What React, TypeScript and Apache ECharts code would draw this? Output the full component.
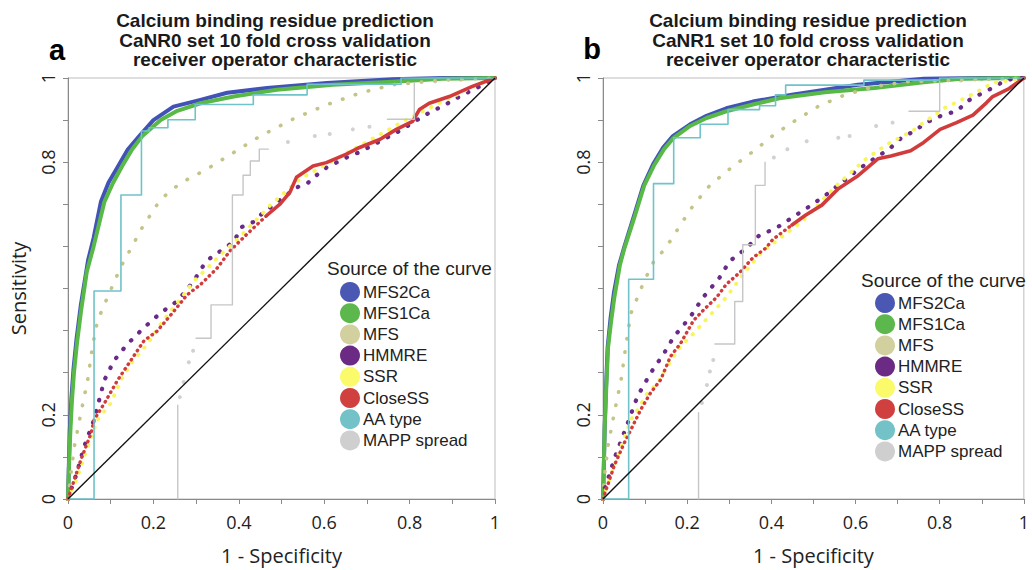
import React, { useEffect, useRef } from 'react';
import * as echarts from 'echarts';

type P = [number, number];

// ---------- Panel a : CaNR0 ----------
const A_MFS2Ca: P[] = [[0,0],[0.002,0.08],[0.004,0.16],[0.008,0.24],[0.013,0.31],[0.02,0.38],[0.03,0.46],[0.047,0.567],[0.06,0.62],[0.077,0.706],[0.095,0.752],[0.117,0.79],[0.14,0.83],[0.166,0.861],[0.2,0.9],[0.247,0.932],[0.31,0.948],[0.373,0.965],[0.466,0.976],[0.606,0.988],[0.76,0.997],[0.88,1],[1,1]];
const A_MFS1Ca: P[] = [[0,0],[0.002,0.07],[0.005,0.15],[0.009,0.23],[0.014,0.3],[0.021,0.37],[0.031,0.45],[0.044,0.54],[0.06,0.6],[0.085,0.705],[0.105,0.75],[0.127,0.791],[0.15,0.83],[0.174,0.862],[0.217,0.9],[0.256,0.922],[0.31,0.94],[0.388,0.956],[0.489,0.972],[0.62,0.984],[0.76,0.991],[0.877,0.998],[1,1]];
const A_MFS: P[] = [[0,0],[0.007,0.062],[0.015,0.125],[0.03,0.203],[0.046,0.282],[0.057,0.36],[0.069,0.423],[0.092,0.478],[0.124,0.552],[0.15,0.6],[0.174,0.645],[0.217,0.712],[0.263,0.75],[0.326,0.784],[0.388,0.823],[0.45,0.862],[0.528,0.903],[0.605,0.936],[0.683,0.964],[0.761,0.984],[0.877,0.995],[1,1]];
const A_HMMRE: P[] = [[0,0],[0.02,0.06],[0.038,0.125],[0.061,0.188],[0.085,0.282],[0.108,0.329],[0.139,0.368],[0.178,0.407],[0.217,0.442],[0.256,0.47],[0.294,0.517],[0.318,0.556],[0.333,0.572],[0.388,0.611],[0.407,0.646],[0.434,0.658],[0.45,0.674],[0.535,0.74],[0.559,0.748],[0.578,0.766],[0.605,0.787],[0.652,0.811],[0.683,0.824],[0.776,0.874],[0.838,0.913],[0.897,0.944],[0.924,0.96],[0.955,0.975],[1,1]];
const A_SSR: P[] = [[0,0],[0.02,0.045],[0.045,0.12],[0.069,0.188],[0.1,0.227],[0.124,0.282],[0.147,0.321],[0.186,0.368],[0.217,0.415],[0.24,0.446],[0.271,0.485],[0.294,0.517],[0.326,0.548],[0.357,0.58],[0.4,0.62],[0.473,0.697],[0.543,0.76],[0.605,0.795],[0.71,0.854],[0.792,0.901],[0.893,0.952],[0.959,0.984],[1,1]];
const A_CloseSS_dots: P[] = [[0,0],[0.03,0.093],[0.054,0.156],[0.061,0.188],[0.085,0.227],[0.116,0.282],[0.147,0.329],[0.178,0.376],[0.209,0.399],[0.248,0.446],[0.279,0.485],[0.31,0.509],[0.349,0.548],[0.38,0.59],[0.42,0.63],[0.466,0.674]];
const A_CloseSS_line: P[] = [[0.466,0.674],[0.497,0.701],[0.52,0.729],[0.535,0.764],[0.574,0.791],[0.605,0.799],[0.652,0.819],[0.683,0.835],[0.73,0.854],[0.769,0.878],[0.807,0.897],[0.823,0.925],[0.846,0.94],[0.893,0.956],[0.947,0.98],[1,1]];
const A_AAtype: P[] = [[0,0],[0.061,0],[0.061,0.494],[0.124,0.494],[0.124,0.722],[0.172,0.722],[0.172,0.874],[0.19,0.874],[0.19,0.882],[0.234,0.882],[0.234,0.901],[0.298,0.901],[0.298,0.937],[0.434,0.937],[0.434,0.96],[0.56,0.96],[0.56,0.985],[0.78,0.985],[0.78,1],[1,1]];
const A_MAPP_seg1: P[] = [[0.257,0],[0.257,0.223]];
const A_MAPP_seg2: P[] = [[0.3,0.382],[0.335,0.382],[0.335,0.461],[0.385,0.461],[0.385,0.722],[0.41,0.722],[0.41,0.769],[0.427,0.769],[0.427,0.803],[0.448,0.803],[0.448,0.831],[0.469,0.831]];
const A_MAPP_seg3: P[] = [[0.748,0.902],[0.811,0.902],[0.811,0.988]];
const A_MAPP_dots: P[] = [[0.262,0.242],[0.271,0.278],[0.283,0.325],[0.293,0.352],[0.515,0.848],[0.578,0.862],[0.613,0.867],[0.667,0.878],[0.706,0.884],[0.86,0.992],[0.92,0.996]];

// ---------- Panel b : CaNR1 ----------
const B_MFS2Ca: P[] = [[0,0],[0.002,0.08],[0.004,0.17],[0.007,0.26],[0.011,0.36],[0.018,0.43],[0.026,0.49],[0.038,0.555],[0.051,0.6],[0.072,0.667],[0.096,0.745],[0.119,0.795],[0.143,0.835],[0.166,0.862],[0.207,0.89],[0.246,0.91],[0.293,0.928],[0.356,0.944],[0.449,0.96],[0.606,0.984],[0.762,0.998],[0.9,1],[1,1]];
const B_MFS1Ca: P[] = [[0,0],[0.002,0.08],[0.004,0.17],[0.008,0.27],[0.012,0.36],[0.019,0.42],[0.027,0.479],[0.04,0.555],[0.051,0.596],[0.074,0.667],[0.098,0.745],[0.121,0.792],[0.145,0.831],[0.168,0.858],[0.207,0.886],[0.246,0.905],[0.293,0.921],[0.356,0.937],[0.419,0.952],[0.527,0.966],[0.645,0.976],[0.762,0.99],[0.85,0.998],[1,1]];
const B_MFS: P[] = [[0,0],[0.003,0.05],[0.012,0.127],[0.027,0.205],[0.043,0.283],[0.055,0.369],[0.066,0.44],[0.098,0.518],[0.121,0.565],[0.149,0.596],[0.184,0.651],[0.215,0.698],[0.254,0.745],[0.301,0.784],[0.364,0.831],[0.402,0.862],[0.449,0.894],[0.512,0.933],[0.575,0.96],[0.645,0.98],[0.723,0.991],[1,1]];
const B_HMMRE: P[] = [[0,0],[0.003,0.02],[0.027,0.096],[0.059,0.181],[0.082,0.244],[0.113,0.299],[0.145,0.346],[0.168,0.385],[0.207,0.432],[0.238,0.479],[0.277,0.526],[0.301,0.565],[0.341,0.596],[0.372,0.627],[0.411,0.643],[0.458,0.674],[0.489,0.694],[0.528,0.721],[0.598,0.776],[0.625,0.796],[0.653,0.814],[0.68,0.831],[0.707,0.856],[0.739,0.874],[0.77,0.895],[0.809,0.913],[0.84,0.921],[0.871,0.948],[0.903,0.965],[0.93,0.979],[0.95,0.991],[0.975,0.999],[1,1]];
const B_SSR: P[] = [[0,0],[0.02,0.06],[0.044,0.127],[0.067,0.189],[0.083,0.213],[0.106,0.252],[0.13,0.275],[0.153,0.315],[0.184,0.362],[0.215,0.393],[0.254,0.436],[0.293,0.479],[0.332,0.533],[0.379,0.588],[0.473,0.659],[0.551,0.741],[0.625,0.808],[0.676,0.843],[0.735,0.874],[0.762,0.894],[0.812,0.929],[0.868,0.956],[0.926,0.988],[1,1]];
const B_CloseSS_dots: P[] = [[0,0],[0.027,0.08],[0.051,0.134],[0.067,0.166],[0.09,0.213],[0.113,0.252],[0.137,0.283],[0.16,0.338],[0.184,0.369],[0.215,0.424],[0.238,0.448],[0.27,0.479],[0.293,0.51],[0.325,0.538],[0.356,0.573],[0.387,0.596],[0.403,0.616],[0.449,0.651]];
const B_CloseSS_line: P[] = [[0.449,0.651],[0.481,0.674],[0.52,0.698],[0.559,0.737],[0.606,0.768],[0.653,0.808],[0.684,0.815],[0.731,0.827],[0.762,0.847],[0.801,0.878],[0.84,0.894],[0.879,0.912],[0.911,0.941],[0.926,0.956],[0.965,0.975],[1,1]];
const B_AAtype: P[] = [[0,0],[0.061,0],[0.061,0.522],[0.12,0.522],[0.12,0.749],[0.168,0.749],[0.168,0.858],[0.231,0.858],[0.231,0.89],[0.297,0.89],[0.297,0.925],[0.372,0.925],[0.372,0.934],[0.41,0.934],[0.41,0.96],[0.434,0.96],[0.434,0.983],[0.62,0.983],[0.62,0.995],[0.8,0.995],[0.8,1],[1,1]];
const B_MAPP_seg1: P[] = [[0.227,0],[0.227,0.205]];
const B_MAPP_seg2: P[] = [[0.266,0.368],[0.313,0.368],[0.313,0.469],[0.332,0.469],[0.332,0.604],[0.362,0.604],[0.362,0.745],[0.385,0.745],[0.385,0.8]];
const B_MAPP_seg3: P[] = [[0.727,0.921],[0.8,0.921],[0.8,0.991]];
const B_MAPP_dots: P[] = [[0.235,0.228],[0.247,0.271],[0.254,0.303],[0.262,0.33],[0.406,0.811],[0.438,0.831],[0.484,0.85],[0.559,0.858],[0.586,0.862],[0.649,0.886],[0.688,0.894],[0.85,0.994],[0.9,0.997]];

const DIAGONAL: P[] = [[0,0],[1,1]];

const NAMES = ['MFS2Ca', 'MFS1Ca', 'MFS', 'HMMRE', 'SSR', 'CloseSS', 'AA type', 'MAPP spread'];
const COLORS: Record<string, string> = {
  'MFS2Ca': '#4253b8',
  'MFS1Ca': '#58b947',
  'MFS': '#c4c488',
  'HMMRE': '#6a2a88',
  'SSR': '#f6f65c',
  'CloseSS': '#d23b3b',
  'AA type': '#6fc3c9',
  'MAPP spread': '#c6c6c6',
};
const LEGEND_COLORS: Record<string, string> = {
  'MFS2Ca': '#4a58b4',
  'MFS1Ca': '#5cb84c',
  'MFS': '#d2d09e',
  'HMMRE': '#6b2a83',
  'SSR': '#fafa6a',
  'CloseSS': '#d0403e',
  'AA type': '#72c2c8',
  'MAPP spread': '#cfcfcf',
};

const TITLE_A = 'Calcium binding residue prediction\nCaNR0 set 10 fold cross validation\nreceiver operator characteristic';
const TITLE_B = 'Calcium binding residue prediction\nCaNR1 set 10 fold cross validation\nreceiver operator characteristic';

const ARIAL = '"Liberation Sans", Arial, sans-serif';
const CALI = '"Open Sans", "Noto Sans", sans-serif';

function solid(name: string, data: P[], width: number, idx: number): any {
  const color = COLORS[name];
  return {
    type: 'line', name, data, xAxisIndex: idx, yAxisIndex: idx,
    symbol: 'none', showSymbol: false, silent: true, color,
    itemStyle: { color },
    lineStyle: { color, width, join: 'round', cap: 'round' },
  };
}
function dotted(name: string, data: P[], width: number, gap: number, idx: number): any {
  const color = COLORS[name];
  return {
    type: 'line', name, data, xAxisIndex: idx, yAxisIndex: idx,
    symbol: 'none', showSymbol: false, silent: true, color,
    itemStyle: { color },
    lineStyle: { color, width, type: [0.5, gap], cap: 'round' },
  };
}
function dots(name: string, data: P[], size: number, idx: number): any {
  const color = COLORS[name];
  return {
    type: 'scatter', name, data, xAxisIndex: idx, yAxisIndex: idx,
    symbol: 'circle', symbolSize: size, silent: true, color,
    itemStyle: { color },
  };
}

function panelSeries(idx: number, d: any): any[] {
  return [
    solid('MFS2Ca', d.mfs2ca, 4, idx),
    solid('MFS1Ca', d.mfs1ca, 4, idx),
    dotted('MFS', d.mfs, 3.6, 13, idx),
    dotted('HMMRE', d.hmmre, 4.2, 11, idx),
    dotted('SSR', d.ssr, 3.8, 9, idx),
    dotted('CloseSS', d.closeDots, 3.4, 5, idx),
    solid('CloseSS', d.closeLine, 3.6, idx),
    solid('AA type', d.aa, 1.6, idx),
    solid('MAPP spread', d.mapp1, 1.4, idx),
    solid('MAPP spread', d.mapp2, 1.4, idx),
    solid('MAPP spread', d.mapp3, 1.4, idx),
    dots('MAPP spread', d.mappDots, 4, idx),
    {
      type: 'line', data: DIAGONAL, xAxisIndex: idx, yAxisIndex: idx,
      symbol: 'none', silent: true, lineStyle: { color: '#111', width: 1.4 },
    },
  ];
}

function xFmt(v: number) {
  const k = Math.round(v * 10);
  return k % 2 === 0 ? String(k / 10) : '';
}
function yFmt(v: number) {
  const k = Math.round(v * 10);
  return k === 0 || k === 2 || k === 8 || k === 10 ? String(k / 10) : '';
}

const GRID_LEFTS = [68, 603];

export default function App() {
  const ref = useRef<HTMLDivElement>(null);
  useEffect(() => {
    if (!ref.current) return;
    const chart = echarts.init(ref.current, undefined, { renderer: 'svg' });
    const axisCommon = {
      type: 'value', min: 0, max: 1, interval: 0.1,
      axisLine: { show: true, onZero: false, lineStyle: { color: '#8a8a8a', width: 1 } },
      axisTick: { show: true, length: 5, lineStyle: { color: '#8a8a8a', width: 1 } },
      splitLine: { show: false },
    };
    const option: any = {
      animation: false,
      backgroundColor: '#ffffff',
      grid: GRID_LEFTS.map((l) => ({
        left: l, top: 78, width: 427, height: 426,
        show: true, borderColor: '#bdbdbd', borderWidth: 1,
      })),
      xAxis: [0, 1].map((i) => ({
        ...axisCommon, gridIndex: i,
        name: '1 - Specificity', nameLocation: 'middle', nameGap: 46,
        nameTextStyle: { fontSize: 20, fontFamily: CALI, color: '#222' },
        axisLabel: { fontSize: 18, fontFamily: CALI, color: '#222', margin: 14, formatter: xFmt },
      })),
      yAxis: [0, 1].map((i) => ({
        ...axisCommon, gridIndex: i,
        name: i === 0 ? 'Sensitivity' : '', nameLocation: 'middle', nameGap: 40, nameRotate: 90,
        nameTextStyle: { fontSize: 20, fontFamily: CALI, color: '#222' },
        axisLabel: { fontSize: 18, fontFamily: CALI, color: '#222', margin: 11, rotate: 90, formatter: yFmt },
      })),
      legend: [
        { left: 340, top: 282 },
        { left: 875, top: 293 },
      ].map((p) => ({
        ...p,
        orient: 'vertical', padding: 0, itemWidth: 20, itemHeight: 20, itemGap: 1.2,
        icon: 'circle', selectedMode: false,
        textStyle: { fontSize: 17, fontFamily: ARIAL, color: '#222', padding: [0, 0, 0, -2] },
        data: NAMES.map((n) => ({ name: n, icon: 'circle', itemStyle: { color: LEGEND_COLORS[n], borderWidth: 0 } })),
      })),
      graphic: [
        { type: 'text', x: 275, y: 11, silent: true,
          style: { text: TITLE_A, align: 'center', verticalAlign: 'top', fontSize: 19, fontWeight: 'bold', fontFamily: ARIAL, lineHeight: 19.5, fill: '#1a1a1a' } },
        { type: 'text', x: 808, y: 11, silent: true,
          style: { text: TITLE_B, align: 'center', verticalAlign: 'top', fontSize: 19, fontWeight: 'bold', fontFamily: ARIAL, lineHeight: 19.5, fill: '#1a1a1a' } },
        { type: 'text', x: 57, y: 50, silent: true,
          style: { text: 'a', align: 'center', verticalAlign: 'middle', fontSize: 29, fontWeight: 'bold', fontFamily: ARIAL, fill: '#000' } },
        { type: 'text', x: 592, y: 49, silent: true,
          style: { text: 'b', align: 'center', verticalAlign: 'middle', fontSize: 29, fontWeight: 'bold', fontFamily: ARIAL, fill: '#000' } },
        { type: 'text', x: 327, y: 268, silent: true,
          style: { text: 'Source of the curve', align: 'left', verticalAlign: 'middle', fontSize: 19, fontFamily: ARIAL, fill: '#222' } },
        { type: 'text', x: 861, y: 280, silent: true,
          style: { text: 'Source of the curve', align: 'left', verticalAlign: 'middle', fontSize: 19, fontFamily: ARIAL, fill: '#222' } },
      ],
      series: [
        ...panelSeries(0, {
          mfs2ca: A_MFS2Ca, mfs1ca: A_MFS1Ca, mfs: A_MFS, hmmre: A_HMMRE, ssr: A_SSR,
          closeDots: A_CloseSS_dots, closeLine: A_CloseSS_line, aa: A_AAtype,
          mapp1: A_MAPP_seg1, mapp2: A_MAPP_seg2, mapp3: A_MAPP_seg3, mappDots: A_MAPP_dots,
        }),
        ...panelSeries(1, {
          mfs2ca: B_MFS2Ca, mfs1ca: B_MFS1Ca, mfs: B_MFS, hmmre: B_HMMRE, ssr: B_SSR,
          closeDots: B_CloseSS_dots, closeLine: B_CloseSS_line, aa: B_AAtype,
          mapp1: B_MAPP_seg1, mapp2: B_MAPP_seg2, mapp3: B_MAPP_seg3, mappDots: B_MAPP_dots,
        }),
      ],
    };
    chart.setOption(option);
    return () => chart.dispose();
  }, []);
  return (
    <div
      ref={ref}
      style={{ position: 'fixed', left: 0, top: 0, width: 1032, height: 570, background: '#fff' }}
    />
  );
}
